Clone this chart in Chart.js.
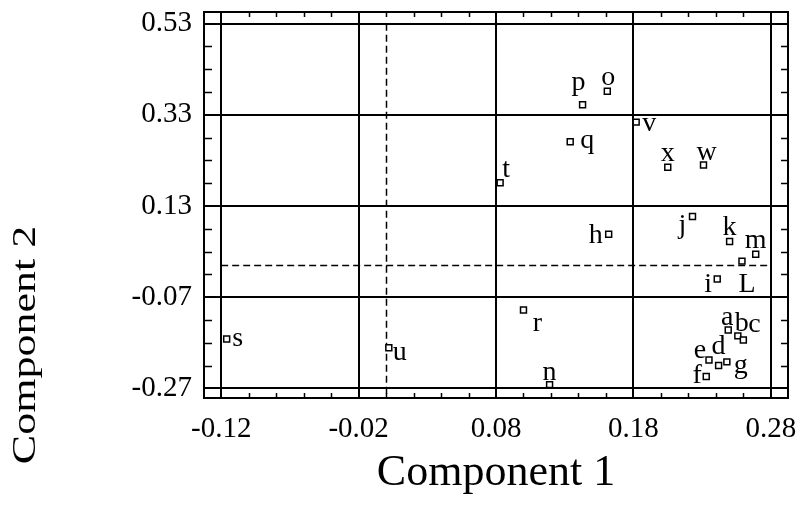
<!DOCTYPE html>
<html>
<head>
<meta charset="utf-8">
<script src="https://cdn.jsdelivr.net/npm/chart.js@4.4.0/dist/chart.umd.min.js"></script>
<style>
  body { margin: 0; background: #fff; }
</style>
</head>
<body>
<canvas id="myChart" width="799" height="506"></canvas>
<script>
const pointNames = ['a', 'b', 'c', 'd', 'e', 'f', 'g', 'h', 'i', 'j', 'k', 'L',
                    'm', 'n', 'o', 'p', 'q', 'r', 's', 't', 'u', 'v', 'w', 'x'];
const component1 = [0.249, 0.256, 0.260, 0.242, 0.235, 0.233, 0.248, 0.162, 0.241, 0.223, 0.250, 0.259,
                    0.269, 0.119, 0.161, 0.143, 0.134, 0.100, -0.116, 0.083, 0.002, 0.182, 0.231, 0.205];
const component2 = [-0.142, -0.155, -0.164, -0.220, -0.208, -0.244, -0.212, 0.068, -0.030, 0.107, 0.052, 0.009,
                    0.024, -0.262, 0.382, 0.352, 0.271, -0.098, -0.162, 0.181, -0.181, 0.314, 0.220, 0.215];
const xTicks = [-0.12, -0.02, 0.08, 0.18, 0.28];
const yTicks = [-0.27, -0.07, 0.13, 0.33, 0.53];

// where each letter sits relative to its square (px, baseline)
const labelOffset = {
    a: [-1, -5], b: [4, -5], c: [11, -8], d: [0, -12], e: [-9, -2], f: [-9, 7], g: [14, 11],
    h: [-13, 9], i: [-9, 13], j: [-10, 17], k: [0, -7], L: [5, 31], m: [0, -6], n: [0, -5],
    o: [1, -6], p: [-4, -15], q: [17, 6], r: [14, 21], s: [11, 7], t: [6, -6], u: [11, 12],
    v: [13, 9], w: [3, -5], x: [0, -6]
};

const serif = "'Liberation Serif', 'Times New Roman', serif";

var points = pointNames.map(function(n, i) {
    return {x: component1[i], y: component2[i], name: n};
});

var framePlugin = {
    id: 'frame',
    beforeDatasetsDraw: function(chart) {
        var c = chart.ctx, a = chart.chartArea;
        var xs = chart.scales.x, ys = chart.scales.y;
        var x0 = Math.round(xs.getPixelForValue(0)) + 0.5;
        var y0 = Math.round(ys.getPixelForValue(0)) + 0.5;
        c.save();
        c.strokeStyle = '#000';
        c.lineWidth = 1.5;
        c.setLineDash([7, 4]);
        c.beginPath();
        c.moveTo(x0, ys.getPixelForValue(yTicks[yTicks.length - 1]));
        c.lineTo(x0, a.bottom);
        c.moveTo(xs.getPixelForValue(xTicks[0]), y0);
        c.lineTo(xs.getPixelForValue(xTicks[xTicks.length - 1]), y0);
        c.stroke();
        c.restore();
    },
    afterDatasetsDraw: function(chart) {
        var c = chart.ctx;
        var xs = chart.scales.x, ys = chart.scales.y;
        c.save();
        c.fillStyle = '#000';
        c.font = '28px ' + serif;
        c.textAlign = 'center';
        c.textBaseline = 'alphabetic';
        points.forEach(function(p) {
            var off = labelOffset[p.name];
            c.fillText(p.name, xs.getPixelForValue(p.x) + off[0], ys.getPixelForValue(p.y) + off[1]);
        });
        c.restore();
    },
    afterDraw: function(chart) {
        var c = chart.ctx, a = chart.chartArea;
        var xs = chart.scales.x, ys = chart.scales.y;
        c.save();
        c.strokeStyle = '#000';
        c.lineWidth = 2;
        c.strokeRect(a.left, a.top, a.right - a.left, a.bottom - a.top);

        // minor ticks
        c.lineWidth = 1.5;
        c.beginPath();
        for (var k = 0; k < xTicks.length - 1; k++) {
            for (var m = 1; m < 5; m++) {
                var px = Math.round(xs.getPixelForValue(xTicks[k] + m * 0.02)) + 0.5;
                c.moveTo(px, a.top); c.lineTo(px, a.top + 5);
                c.moveTo(px, a.bottom); c.lineTo(px, a.bottom - 5);
            }
        }
        for (var k = 0; k < yTicks.length - 1; k++) {
            for (var m = 1; m < 4; m++) {
                var py = Math.round(ys.getPixelForValue(yTicks[k] + m * 0.05)) + 0.5;
                c.moveTo(a.left, py); c.lineTo(a.left + 8, py);
                c.moveTo(a.right, py); c.lineTo(a.right - 7, py);
            }
        }
        c.stroke();

        // y axis title
        c.fillStyle = '#000';
        c.font = '44px ' + serif;
        c.textAlign = 'center';
        c.textBaseline = 'alphabetic';
        c.translate(35, 345);
        c.rotate(-Math.PI / 2);
        c.scale(1, 0.75);
        c.fillText('Component 2', 0, 0);
        c.restore();
    }
};

var graphData = {
    type: 'scatter',
    data: {
        datasets: [
            {
                label: 'points',
                data: points,
                pointStyle: 'rect',
                pointRadius: 4.2,
                pointBackgroundColor: '#fff',
                pointBorderColor: '#000',
                pointBorderWidth: 1.5,
                clip: false,
            },
        ]
    },
    options: {
        animation: false,
        responsive: false,
        layout: {
            padding: {left: 0, top: 12, right: 11, bottom: 0}
        },
        plugins: {
            legend: {display: false},
            tooltip: {enabled: false},
        },
        scales: {
            x: {
                type: 'linear',
                min: -0.1325,
                max: 0.2925,
                afterBuildTicks: function(scale) {
                    scale.ticks = xTicks.map(function(v) { return {value: v}; });
                },
                afterFit: function(scale) {
                    scale.height = 108;
                    scale.paddingLeft = 0;
                    scale.paddingRight = 0;
                },
                grid: {color: '#000', lineWidth: 2, drawTicks: false},
                border: {display: false},
                ticks: {
                    color: '#000',
                    padding: 14,
                    maxRotation: 0,
                    font: {family: serif, size: 29, lineHeight: 1.2},
                    callback: function(v) { return v.toFixed(2); }
                },
                title: {
                    display: true,
                    text: 'Component 1',
                    color: '#000',
                    font: {family: serif, size: 44, lineHeight: 1.2},
                    padding: {top: 0, bottom: 6}
                }
            },
            y: {
                type: 'linear',
                min: -0.2913,
                max: 0.5557,
                afterBuildTicks: function(scale) {
                    scale.ticks = yTicks.map(function(v) { return {value: v}; });
                },
                afterFit: function(scale) {
                    scale.width = 204;
                    scale.paddingTop = 0;
                    scale.paddingBottom = 0;
                },
                grid: {color: '#000', lineWidth: 2, drawTicks: false},
                border: {display: false},
                ticks: {
                    color: '#000',
                    padding: 12,
                    font: {family: serif, size: 29, lineHeight: 1.2},
                    callback: function(v) { return v.toFixed(2); }
                }
            }
        }
    },
    plugins: [framePlugin]
};

var myChart = new Chart(document.getElementById('myChart'), graphData);
</script>
</body>
</html>
